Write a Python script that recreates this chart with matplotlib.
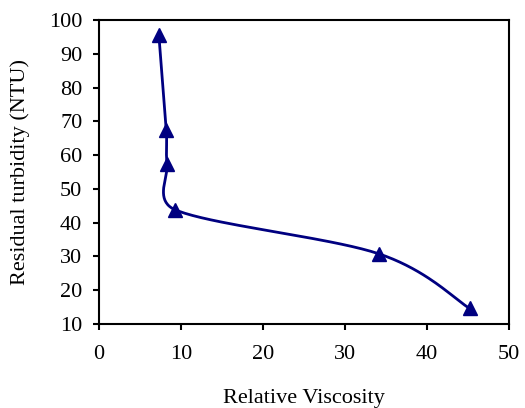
import numpy as np
import matplotlib
matplotlib.use('Agg')
import matplotlib.pyplot as plt

plt.rcParams['font.family'] = ['Liberation Serif', 'DejaVu Serif']

viscosity = [7.3, 8.2, 8.3, 9.3, 34.1, 45.2]
turbidity = [95.5, 67.5, 57.5, 43.8, 30.8, 14.6]


def smooth(xs, ys, kx, ky, n=40):
    # spreadsheet-style smoothed line: bezier tangents of 1/6, capped at half the segment
    p = np.column_stack([np.array(xs) * kx, np.array(ys) * ky]).astype(float)
    out = []
    for i in range(len(p) - 1):
        p0 = p[i - 1] if i > 0 else p[i]
        p1, p2 = p[i], p[i + 1]
        p3 = p[i + 2] if i + 2 < len(p) else p[i + 1]
        d12 = np.hypot(*(p2 - p1))
        o1 = (p2 - p0) / 6
        o2 = (p3 - p1) / 6
        for o in (o1, o2):
            m = np.hypot(*o)
            if m > d12 / 2:
                o *= (d12 / 2) / m
        c1 = p1 + o1
        c2 = p2 - o2
        t = np.linspace(0, 1, n)[:, None]
        seg = (1 - t) ** 3 * p1 + 3 * (1 - t) ** 2 * t * c1 + 3 * (1 - t) * t ** 2 * c2 + t ** 3 * p2
        out.append(seg)
    out = np.vstack(out)
    return out[:, 0] / kx, out[:, 1] / ky


fig = plt.figure(figsize=(5.25, 4.08), dpi=100)
ax = fig.add_axes([0.1886, 0.2059, 0.781, 0.745])

sx, sy = smooth(viscosity, turbidity, 8.2, 3.378)
ax.plot(sx, sy, color='#000080', lw=2)
ax.plot(viscosity, turbidity, ls='none', marker='^', ms=10, color='#000080')

ax.set_xlim(0, 50)
ax.set_ylim(10, 100)
ax.set_xticks(range(0, 51, 10))
ax.set_yticks(range(10, 101, 10))
ax.tick_params(labelsize=16, length=4, width=1.5, direction='out')
ax.tick_params(axis='x', pad=11)
ax.tick_params(axis='y', pad=8)
for s in ax.spines.values():
    s.set_linewidth(1.5)

ax.set_xlabel('Relative Viscosity', fontsize=16, labelpad=18)
ax.set_ylabel('Residual turbidity (NTU)', fontsize=16, labelpad=14)

fig.savefig('out.png', dpi=100)
